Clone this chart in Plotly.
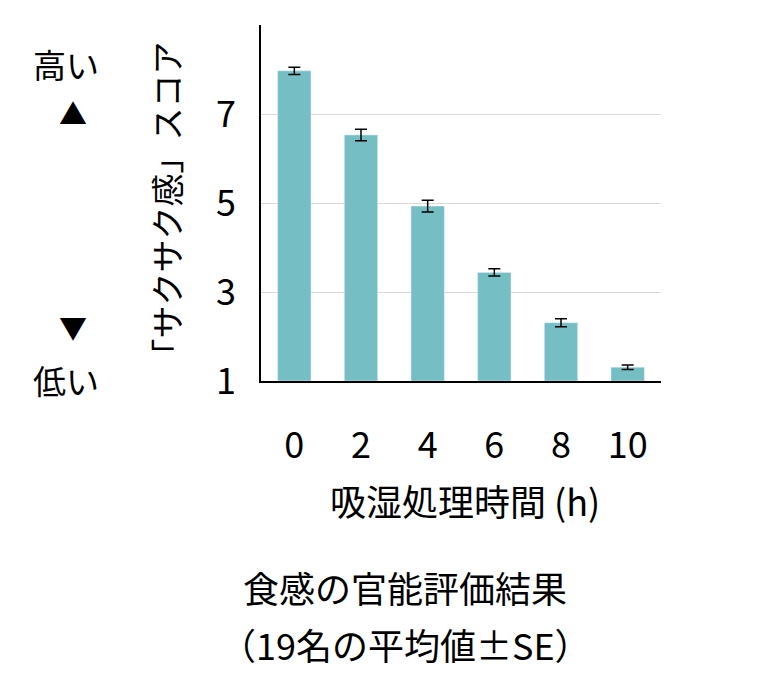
import plotly.graph_objects as go

hours = ["0", "2", "4", "6", "8", "10"]
scores = [7.97, 6.53, 4.93, 3.44, 2.31, 1.31]
errors = [0.08, 0.13, 0.13, 0.08, 0.09, 0.05]
y_ticks = [1, 3, 5, 7, 9]

F = "Noto Sans CJK JP"
fig = go.Figure(go.Bar(
    x=hours, y=[s - 1 for s in scores], base=1,
    marker_color="#74BEC4", width=0.5,
    error_y=dict(type="data", array=errors, color="black", thickness=1.5, width=6),
))
fig.update_layout(
    width=766, height=695, margin=dict(l=253, r=113, t=17, b=322),
    plot_bgcolor="white", paper_bgcolor="white", showlegend=False,
    font=dict(family=F, color="black", size=36),
    xaxis=dict(showline=True, linecolor="black", linewidth=1.5, ticks="",
               ticklabelstandoff=32, tickfont=dict(size=36)),
    yaxis=dict(range=[1, 9], tickvals=y_ticks, showline=True, linecolor="black",
               linewidth=1.5, gridcolor="#d9d9d9", zeroline=False,
               tickfont=dict(size=36), ticklabelstandoff=16),
)
def ann(text, x, y, size=36, angle=0):
    fig.add_annotation(text=text, x=x, y=y, xref="paper", yref="paper",
                       showarrow=False, font=dict(size=size, family=F),
                       textangle=angle, xanchor="center", yanchor="middle")
ann("「サクサク感」スコア", -0.2375, 0.49, 33, -90)
ann("高い", -0.4875, 0.89, 33)
ann("▲", -0.47, 0.754, 28)
ann("▼", -0.47, 0.152, 28)
ann("低い", -0.4875, 0.003, 33)
ann("吸湿処理時間 (h)", 0.51, -0.335, 36)
ann("食感の官能評価結果", 0.36, -0.578, 36)
ann("（19名の平均値±SE）", 0.36, -0.74, 36)
fig.write_html("out.html")
